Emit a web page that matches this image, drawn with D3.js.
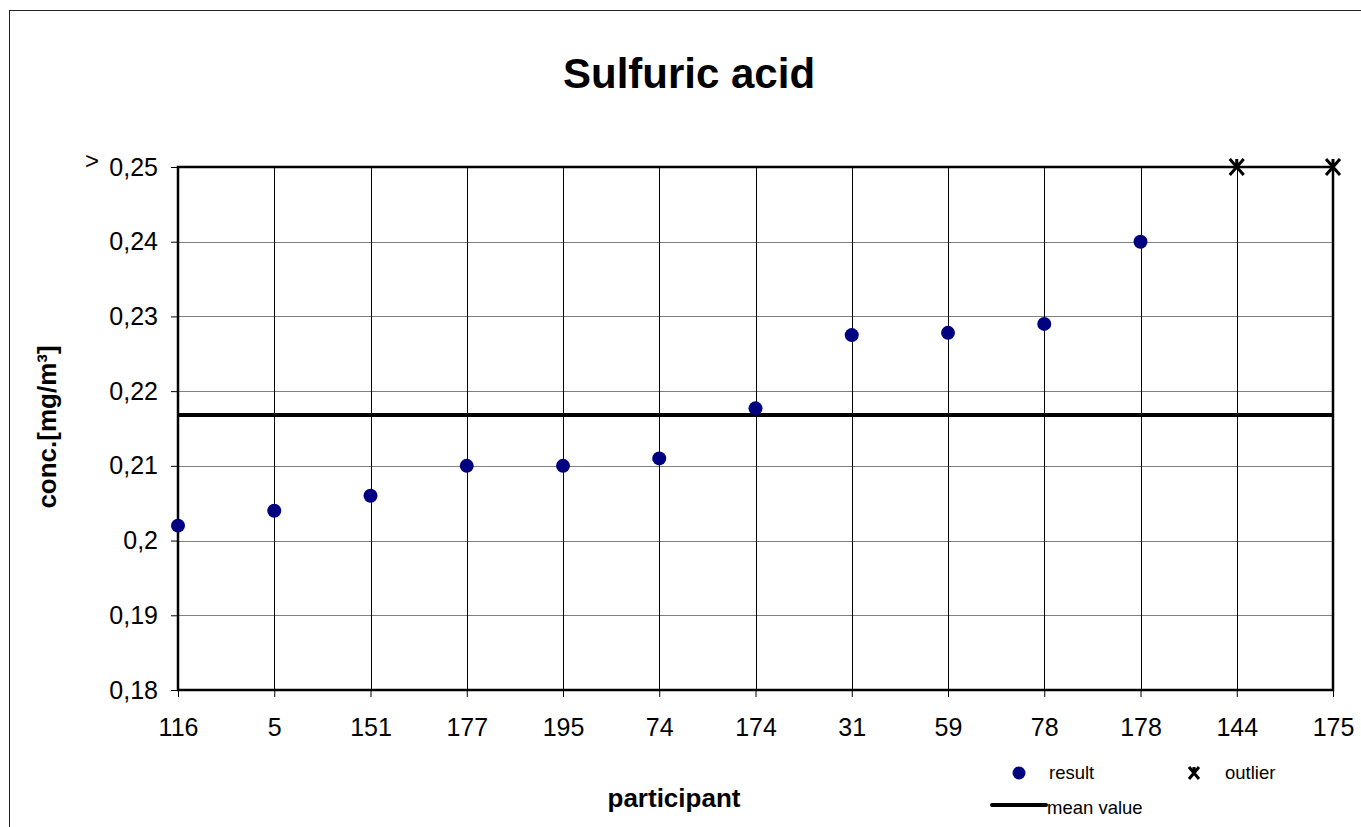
<!DOCTYPE html>
<html><head><meta charset="utf-8">
<script src="https://cdn.jsdelivr.net/npm/d3@7"></script>
<style>body{margin:0;background:#fff;}svg{display:block;font-family:"Liberation Sans",Arial,sans-serif;}</style>
</head><body>
<script>
const participants = ["116","5","151","177","195","74","174","31","59","78","178","144","175"];
const results = [0.202,0.204,0.206,0.210,0.210,0.211,0.2177,0.2275,0.2278,0.229,0.240,null,null];
const outliers = [null,null,null,null,null,null,null,null,null,null,null,0.25,0.25];
const meanValue = 0.2168;
const yTicks = [0.18,0.19,0.20,0.21,0.22,0.23,0.24,0.25];
const yTickLabels = ["0,18","0,19","0,2","0,21","0,22","0,23","0,24","0,25"];

const W=1361,H=827;
const svg=d3.select("body").append("svg").attr("width",W).attr("height",H);
svg.append("rect").attr("x",9.5).attr("y",10.5).attr("width",1400).attr("height",900).attr("fill","none").attr("stroke","#222").attr("stroke-width",1);

const x=d3.scalePoint().domain(participants).range([178,1333]);
const y=d3.scaleLinear().domain([0.18,0.25]).range([690,167]);

// horizontal grid
svg.append("g").selectAll("line").data(yTicks.slice(1,-1)).join("line")
  .attr("x1",178).attr("x2",1333).attr("y1",d=>Math.round(y(d))+0.5).attr("y2",d=>Math.round(y(d))+0.5)
  .attr("stroke","#808080").attr("stroke-width",1);
// vertical grid
svg.append("g").selectAll("line").data(participants.slice(1,-1)).join("line")
  .attr("x1",d=>Math.round(x(d))+0.5).attr("x2",d=>Math.round(x(d))+0.5).attr("y1",167).attr("y2",690)
  .attr("stroke","#000").attr("stroke-width",1);

// axes
const yAxis=d3.axisLeft(y).tickValues(yTicks).tickFormat((d,i)=>yTickLabels[i]).tickSize(7).tickPadding(13);
const gy=svg.append("g").attr("transform","translate(178,0)").call(yAxis);
gy.select(".domain").remove();
gy.attr("font-size",25).attr("font-family","Liberation Sans, Arial, sans-serif");
gy.selectAll("text").attr("fill","#000");
gy.selectAll("line").attr("stroke","#000");
const xAxis=d3.axisBottom(x).tickSize(7).tickPadding(21);
const gx=svg.append("g").attr("transform","translate(0,690)").call(xAxis);
gx.select(".domain").remove();
gx.attr("font-size",25).attr("font-family","Liberation Sans, Arial, sans-serif");
gx.selectAll("text").attr("fill","#000");
gx.selectAll("line").attr("stroke","#000");

// plot border
svg.append("rect").attr("x",178).attr("y",167).attr("width",1333-178).attr("height",690-167)
  .attr("fill","none").attr("stroke","#000").attr("stroke-width",2.5);

svg.append("text").attr("x",85).attr("y",169).attr("font-size",24).text(">");

// mean line
svg.append("line").attr("x1",178).attr("x2",1333).attr("y1",y(meanValue)).attr("y2",y(meanValue))
  .attr("stroke","#000").attr("stroke-width",4);

// results
svg.append("g").selectAll("circle").data(participants.map((p,i)=>({p,v:results[i]})).filter(d=>d.v!=null)).join("circle")
  .attr("cx",d=>x(d.p)).attr("cy",d=>y(d.v)).attr("r",7).attr("fill","#000080");

// outliers
const xm=svg.append("g").selectAll("g").data(participants.map((p,i)=>({p,v:outliers[i]})).filter(d=>d.v!=null)).join("g")
  .attr("transform",d=>`translate(${x(d.p)},${y(d.v)})`);
xm.append("path").attr("d","M-7,-8L7,8M7,-8L-7,8M0,-8L0,0").attr("stroke","#000").attr("stroke-width",3);

// titles
svg.append("text").attr("x",689).attr("y",88).attr("text-anchor","middle").attr("font-size",42).attr("font-weight","bold").text("Sulfuric acid");
svg.append("text").attr("x",674).attr("y",807).attr("text-anchor","middle").attr("font-size",26).attr("font-weight","bold").text("participant");
svg.append("text").attr("transform","translate(56,427) rotate(-90)").attr("text-anchor","middle").attr("font-size",26).attr("font-weight","bold").text("conc.[mg/m³]");

// legend
const lg=svg.append("g").attr("font-size",18.5);
lg.append("circle").attr("cx",1019).attr("cy",773).attr("r",6.5).attr("fill","#000080");
lg.append("text").attr("x",1049).attr("y",779).text("result");
lg.append("path").attr("transform","translate(1194,773)").attr("d","M-5,-6L5,6M5,-6L-5,6M0,-6L0,0").attr("stroke","#000").attr("stroke-width",3);
lg.append("text").attr("x",1225).attr("y",779).text("outlier");
lg.append("line").attr("x1",992).attr("x2",1046).attr("y1",805).attr("y2",805).attr("stroke","#000").attr("stroke-width",4).attr("stroke-linecap","round");
lg.append("text").attr("x",1047).attr("y",814).text("mean value");
</script>
</body></html>
